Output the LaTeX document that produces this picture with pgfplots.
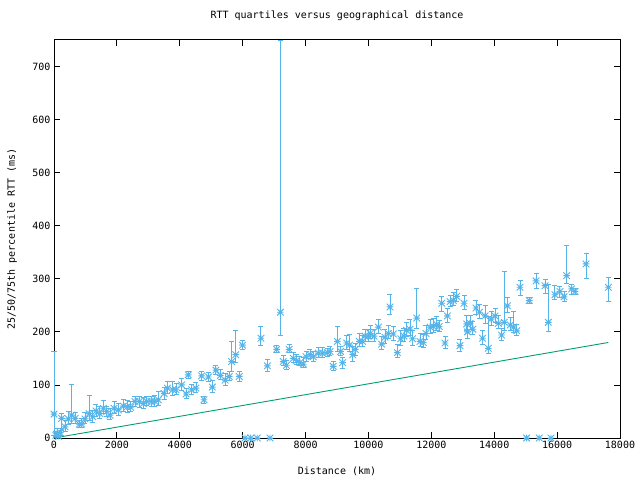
\documentclass[border=0pt]{standalone}
\usepackage{fontspec}
\setmainfont{DejaVu Sans Mono}
\usepackage{pgfplots}
\pgfplotsset{compat=1.18}
\usepackage{pgfplotstable}
\definecolor{gpblue}{HTML}{56B4E9}
\definecolor{gpgreen}{HTML}{009E73}
\pgfdeclareplotmark{gpstar}{%
 \pgfpathmoveto{\pgfqpoint{-\pgfplotmarksize}{0pt}}\pgfpathlineto{\pgfqpoint{\pgfplotmarksize}{0pt}}%
 \pgfpathmoveto{\pgfqpoint{0pt}{-\pgfplotmarksize}}\pgfpathlineto{\pgfqpoint{0pt}{\pgfplotmarksize}}%
 \pgfpathmoveto{\pgfqpoint{-\pgfplotmarksize}{-\pgfplotmarksize}}\pgfpathlineto{\pgfqpoint{\pgfplotmarksize}{\pgfplotmarksize}}%
 \pgfpathmoveto{\pgfqpoint{-\pgfplotmarksize}{\pgfplotmarksize}}\pgfpathlineto{\pgfqpoint{\pgfplotmarksize}{-\pgfplotmarksize}}%
 \pgfusepathqstroke}
\pgfplotstableread{
x y em ep
0 45 40 119
60 5 3 8
100 8 4 10
150 3 2 6
200 10 5 8
245 37 22 10
350 21 8 12
455 36 10 14
560 43 15 58
670 37 10 12
805 26 6 8
880 26 6 10
985 36 8 12
1115 46 12 34
1230 40 10 12
1335 51 10 12
1460 46 10 14
1570 56 10 14
1675 50 10 10
1780 43 8 12
1910 56 10 12
2045 53 10 12
2205 60 10 12
2330 59 10 12
2440 58 8 10
2575 69 10 10
2715 69 12 10
2840 65 10 12
2950 69 8 10
3085 69 10 10
3210 69 10 12
3320 72 10 15
3500 84 12 12
3605 94 10 12
3775 91 10 15
3880 91 8 12
4060 100 10 12
4200 83 8 10
4270 119 6 6
4380 91 8 10
4515 94 8 10
4695 117 8 8
4770 72 6 6
4910 115 8 8
5035 96 10 12
5150 128 8 8
5290 118 8 12
5440 109 10 12
5575 116 8 10
5650 144 19 38
5780 157 15 45
5890 116 10 10
5995 175 8 8
6075 0 0 0
6255 0 0 0
6465 0 0 0
6580 188 13 23
6785 136 10 12
6870 0 0 0
7080 167 6 8
7200 237 43 513
7290 144 8 12
7390 137 8 10
7480 167 5 10
7610 150 8 12
7720 146 8 12
7820 142 6 12
7930 139 6 12
8015 153 8 10
8140 157 8 10
8245 153 8 10
8405 160 8 10
8545 160 8 10
8690 161 8 8
8777 163 8 10
8880 135 8 10
9010 182 19 28
9115 163 8 10
9180 142 10 10
9310 179 12 15
9400 175 12 20
9500 157 12 15
9580 167 12 12
9710 182 10 15
9815 182 10 12
9890 192 10 12
9995 192 10 12
10060 197 10 15
10175 192 10 12
10315 209 12 15
10420 177 10 15
10525 190 12 15
10630 197 10 15
10685 247 15 23
10790 196 12 15
10920 161 10 15
11030 187 12 15
11130 192 10 15
11210 203 12 15
11320 205 12 18
11400 187 12 15
11535 226 19 55
11640 182 10 15
11745 180 10 15
11830 197 12 15
11960 209 12 15
12060 210 12 15
12170 214 12 15
12250 210 10 12
12330 254 15 12
12435 179 10 12
12510 230 12 15
12600 257 10 12
12700 259 10 15
12805 267 10 12
12910 174 10 12
13040 254 12 15
13125 215 12 15
13150 200 12 15
13230 216 12 15
13320 205 10 15
13420 245 12 15
13530 237 12 15
13630 188 12 15
13710 230 15 20
13810 169 10 60
13900 224 12 15
14025 230 12 15
14130 216 10 15
14235 194 10 12
14320 218 15 96
14420 249 12 15
14510 213 10 15
14615 209 10 30
14715 202 8 12
14820 284 15 12
15030 0 0 0
15115 259 5 5
15330 296 15 15
15430 0 0 0
15615 287 15 12
15720 218 18 71
15805 0 0 0
15930 270 8 18
16090 276 12 10
16220 266 8 10
16300 306 15 56
16460 281 10 8
16570 276 6 6
16920 328 28 19
17630 284 27 18
}\rttdata
\begin{document}
\begin{tikzpicture}
\useasboundingbox (0,0) rectangle (640bp,480bp);
\begin{axis}[
  at={(54bp,42bp)}, anchor=south west,
  scale only axis, width=566bp, height=398bp,
  xmin=0, xmax=18000, ymin=0, ymax=750,
  xtick={0,2000,...,18000}, ytick={0,100,...,700},
  scaled x ticks=false, scaled y ticks=false,
  tick align=inside, major tick length=6bp,
  xtick pos=both, ytick pos=both,
  axis line style={line width=1bp},
  every tick/.style={black, line width=0.8bp},
  /pgf/number format/assume math mode=true,
  /pgf/number format/set thousands separator={},
  tick label style={font=\fontsize{10bp}{12bp}\selectfont},
  label style={font=\fontsize{10bp}{12bp}\selectfont},
  title style={font=\fontsize{10bp}{12bp}\selectfont, at={(axis description cs:0.5,1)}, anchor=base, yshift=16bp},
  title={RTT quartiles versus geographical distance},
  xlabel={Distance (km)},
  ylabel={25/50/75th percentile RTT (ms)},
  xlabel style={at={(axis description cs:0.5,0)}, anchor=base, yshift=-36bp},
  ylabel style={at={(axis description cs:-0.0742,0.5)}, anchor=center},
  clip=false,
]
\addplot[color=gpblue, only marks, mark=gpstar, mark size=3.3bp, line width=0.9bp,
  error bars/.cd, y dir=both, y explicit, error mark=|,
  error bar style={line width=0.9bp, gpblue},
  error mark options={gpblue, mark size=2.5bp, line width=0.9bp}]
  table[x=x, y=y, y error minus=em, y error plus=ep] {\rttdata};
\addplot[color=gpgreen, line width=0.9bp, no marks] coordinates {(0,0) (17630,180)};
\end{axis}
\end{tikzpicture}
\end{document}
